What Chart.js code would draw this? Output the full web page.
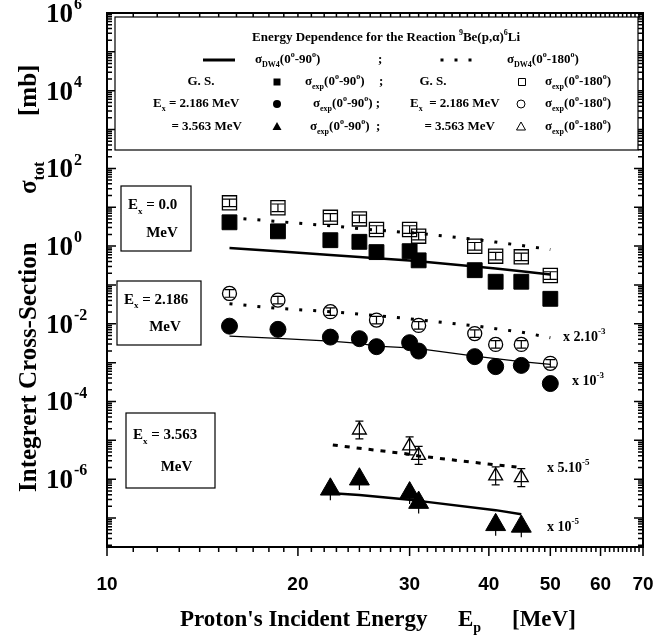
<!DOCTYPE html>
<html>
<head>
<meta charset="utf-8">
<script src="https://cdn.jsdelivr.net/npm/chart.js@4.4.1/dist/chart.umd.min.js"></script>
<style>
  body { margin: 0; background: #fff; }
  canvas { display: block; }
</style>
</head>
<body>
<canvas id="myChart" width="656" height="642"></canvas>
<script>
// energies (MeV)
const energias = [15.6, 18.6, 22.5, 25, 26.6, 30, 31, 38, 41, 45, 50];
const energias180Ex1 = [15.6, 18.6, 22.5, 26.6, 31, 38, 41, 45, 50];
const energiasTri = [22.5, 25, 30, 31, 41, 45];
const energiasTri180 = [25, 30, 31, 41, 45];
const energiasTriDw90 = [23, 25, 30, 31, 41, 45];
const energiasTriDw180 = [22.7, 25, 30, 31, 41, 45];

// G.S.
const gsExp90 = [4.1, 2.4, 1.42, 1.29, 0.70, 0.74, 0.43, 0.24, 0.121, 0.121, 0.044];
const gsExp180 = [13.0, 9.7, 5.5, 5.0, 2.67, 2.67, 1.8, 0.99, 0.55, 0.53, 0.175];
const gsDw90 = [0.90, 0.74, 0.59, 0.525, 0.486, 0.424, 0.409, 0.30, 0.264, 0.224, 0.186];
const gsDw180 = [5.43, 4.29, 3.33, 2.83, 2.59, 2.21, 2.13, 1.50, 1.27, 1.04, 0.82];

// Ex = 2.186 MeV (scaled)
const ex1Exp90 = [8.7e-3, 7.2e-3, 4.55e-3, 4.14e-3, 2.58e-3, 3.27e-3, 1.99e-3, 1.43e-3, 7.9e-4, 8.5e-4, 2.9e-4];
const ex1Exp180 = [0.0604, 0.0407, 0.0205, 0.01245, 9.1e-3, 5.6e-3, 2.95e-3, 2.95e-3, 9.6e-4];
const ex1Dw90 = [4.83e-3, 4.21e-3, 3.59e-3, 3.13e-3, 2.67e-3, 2.40e-3, 2.29e-3, 1.48e-3, 1.27e-3, 1.06e-3, 9.0e-4];
const ex1Dw180 = [0.0329, 0.025, 0.0205, 0.0178, 0.0162, 0.0135, 0.0127, 8.9e-3, 7.5e-3, 6.1e-3, 4.4e-3];

// Ex = 3.563 MeV (scaled)
const ex2Exp90 = [5.5e-7, 1.0e-6, 4.4e-7, 2.5e-7, 6.7e-8, 6.1e-8];
const ex2Exp180 = [1.85e-5, 7.2e-6, 4.1e-6, 1.22e-6, 1.1e-6];
const ex2Dw90 = [4.3e-7, 3.95e-7, 2.95e-7, 2.77e-7, 1.6e-7, 1.26e-7];
const ex2Dw180 = [7.6e-6, 6.27e-6, 4.4e-6, 3.98e-6, 2.33e-6, 2.0e-6];

// error bar factors (value / f .. value * f)
const errGs180 = [1.25, 1.25, 1.25, 1.25, 1.25, 1.25, 1.25, 1.25, 1.25, 1.25, 1.25];
const errEx1180 = [1.25, 1.25, 1.25, 1.25, 1.25, 1.25, 1.25, 1.25, 1.25];
const errEx290 = [1.9, 1.9, 1.9, 1.9, 1.9, 1.9];
const errEx2180 = [1.7, 1.7, 1.7, 1.7, 1.7];

const xTicks = [10, 20, 30, 40, 50, 60, 70];
const yDecadas = [6, 4, 2, 0, -2, -4, -6];

const SERIF = '"Liberation Serif", "Times New Roman", serif';
const SANS = '"Liberation Sans", Arial, sans-serif';

function puntos(xs, ys) {
  return xs.map((x, i) => ({ x: x, y: ys[i] }));
}

function marcador(label, xs, ys, estilo, radio, lleno, err, cap) {
  return {
    label: label,
    data: puntos(xs, ys),
    showLine: false,
    pointStyle: estilo,
    pointRadius: radio,
    pointHoverRadius: radio,
    pointBackgroundColor: lleno ? '#000' : 'rgba(0,0,0,0)',
    pointBorderColor: '#000',
    pointBorderWidth: lleno ? 1 : 1.3,
    errores: err,
    capAncho: cap
  };
}

function linea(label, xs, ys, ancho, dash) {
  return {
    label: label,
    data: puntos(xs, ys),
    showLine: true,
    borderColor: '#000',
    borderWidth: ancho,
    borderDash: dash,
    borderCapStyle: 'butt',
    pointRadius: 0,
    tension: 0
  };
}

// texto con sub/superindices
function textoRico(ctx, x, y, partes, size, align) {
  const fuente = m => m === 'n' ? `bold ${size}px ${SERIF}` : `bold ${Math.round(size * 0.62)}px ${SERIF}`;
  let w = 0;
  for (const [t, m] of partes) { ctx.font = fuente(m); w += ctx.measureText(t).width; }
  let cx = align === 'center' ? x - w / 2 : align === 'right' ? x - w : x;
  ctx.textAlign = 'left';
  ctx.textBaseline = 'middle';
  for (const [t, m] of partes) {
    ctx.font = fuente(m);
    const dy = m === 'sub' ? size * 0.38 : m === 'sup' ? -size * 0.38 : 0;
    ctx.fillText(t, cx, y + dy);
    cx += ctx.measureText(t).width;
  }
}

const barrasError = {
  id: 'barrasError',
  afterDatasetsDraw(chart) {
    const ctx = chart.ctx;
    const xs = chart.scales.x, ys = chart.scales.y;
    ctx.save();
    ctx.strokeStyle = '#000';
    ctx.lineWidth = 1.2;
    chart.data.datasets.forEach(ds => {
      if (!ds.errores) return;
      ds.data.forEach((p, i) => {
        const f = ds.errores[i];
        const px = xs.getPixelForValue(p.x);
        const y1 = ys.getPixelForValue(p.y / f);
        const y2 = ys.getPixelForValue(p.y * f);
        ctx.beginPath();
        ctx.moveTo(px, y1); ctx.lineTo(px, y2);
        if (ds.capAncho) {
          const c = ds.capAncho / 2;
          ctx.moveTo(px - c, y1); ctx.lineTo(px + c, y1);
          ctx.moveTo(px - c, y2); ctx.lineTo(px + c, y2);
        }
        ctx.stroke();
      });
    });
    ctx.restore();
  }
};

function dibujaSimbolo(ctx, tipo, x, y, lleno) {
  ctx.beginPath();
  if (tipo === 'rect') ctx.rect(x - 3.5, y - 3.5, 7, 7);
  if (tipo === 'circle') ctx.arc(x, y, 4, 0, Math.PI * 2);
  if (tipo === 'triangle') { ctx.moveTo(x, y - 5); ctx.lineTo(x + 4.5, y + 3); ctx.lineTo(x - 4.5, y + 3); ctx.closePath(); }
  if (lleno) ctx.fill(); else { ctx.lineWidth = 1; ctx.stroke(); }
}

const decoracion = {
  id: 'decoracion',
  afterDraw(chart) {
    const ctx = chart.ctx;
    const a = chart.chartArea;
    const xs = chart.scales.x, ys = chart.scales.y;
    ctx.save();
    ctx.fillStyle = '#000';
    ctx.strokeStyle = '#000';

    // marco
    ctx.lineWidth = 2;
    ctx.strokeRect(a.left, a.top, a.right - a.left, a.bottom - a.top);

    // ticks eje x (abajo hacia fuera, arriba hacia dentro)
    ctx.lineWidth = 1.5;
    for (let e = 10; e <= 70; e++) {
      const px = xs.getPixelForValue(e);
      const mayor = e % 10 === 0;
      ctx.beginPath();
      ctx.moveTo(px, a.bottom); ctx.lineTo(px, a.bottom + (mayor ? 9 : 5));
      ctx.moveTo(px, a.top); ctx.lineTo(px, a.top + (mayor ? 8 : 5));
      ctx.stroke();
    }
    // ticks eje y (hacia dentro)
    for (let d = -8; d <= 6; d++) {
      for (let k = 1; k <= 9; k++) {
        const v = k * Math.pow(10, d);
        if (v < ys.min || v > ys.max) continue;
        const py = ys.getPixelForValue(v);
        const l = k === 1 ? 9 : 5;
        ctx.beginPath();
        ctx.moveTo(a.left, py); ctx.lineTo(a.left + l, py);
        ctx.moveTo(a.right, py); ctx.lineTo(a.right - l, py);
        ctx.stroke();
      }
    }

    // etiquetas eje x
    ctx.font = `bold 19px ${SANS}`;
    ctx.textAlign = 'center';
    ctx.textBaseline = 'middle';
    xTicks.forEach(t => ctx.fillText(String(t), xs.getPixelForValue(t), 585));

    // etiquetas eje y
    yDecadas.forEach(d => {
      const py = ys.getPixelForValue(Math.pow(10, d));
      ctx.font = `bold 27px ${SERIF}`;
      ctx.textAlign = 'left';
      ctx.textBaseline = 'middle';
      ctx.fillText('10', 46, py + 2);
      const w = ctx.measureText('10').width;
      ctx.font = `bold 16px ${SERIF}`;
      ctx.fillText(d < 0 ? '-' + (-d) : String(d), 46 + w + 1, py - 8);
    });

    // titulos de ejes
    textoRico(ctx, 180, 620, [["Proton's Incident Energy", 'n']], 23, 'left');
    textoRico(ctx, 458, 620, [['E', 'n'], ['p', 'sub']], 23, 'left');
    textoRico(ctx, 512, 620, [['[MeV]', 'n']], 23, 'left');
    ctx.save();
    ctx.translate(30, 0);
    ctx.rotate(-Math.PI / 2);
    textoRico(ctx, -492, 0, [['Integrert Cross-Section', 'n']], 25, 'left');
    textoRico(ctx, -194, 0, [['\u03c3', 'n'], ['tot', 'sub']], 25, 'left');
    textoRico(ctx, -116, 0, [['[mb]', 'n']], 25, 'left');
    ctx.restore();

    // leyenda
    ctx.lineWidth = 1.2;
    ctx.fillStyle = '#fff';
    ctx.fillRect(115, 17, 523, 133);
    ctx.strokeRect(115, 17, 523, 133);
    ctx.fillStyle = '#000';
    textoRico(ctx, 386, 38, [['Energy Dependence for the Reaction ', 'n'], ['9', 'sup'], ['Be(p,\u03b1)', 'n'], ['6', 'sup'], ['Li', 'n']], 13, 'center');
    const sig = (sub, ang) => [['\u03c3', 'n'], [sub, 'sub'], ['(0', 'n'], ['o', 'sup'], ['-' + ang, 'n'], ['o', 'sup'], [')', 'n']];
    // fila 1
    ctx.lineWidth = 3;
    ctx.beginPath(); ctx.moveTo(203, 60); ctx.lineTo(235, 60); ctx.stroke();
    [442, 456, 470].forEach(x => ctx.fillRect(x - 1.5, 58.5, 3, 3));
    textoRico(ctx, 255, 60, sig('DW4', '90'), 13, 'left');
    textoRico(ctx, 378, 60, [[';', 'n']], 13, 'left');
    textoRico(ctx, 507, 60, sig('DW4', '180'), 13, 'left');
    // fila 2
    textoRico(ctx, 201, 82, [['G. S.', 'n']], 13, 'center');
    dibujaSimbolo(ctx, 'rect', 277, 82, true);
    textoRico(ctx, 305, 82, sig('exp', '90'), 13, 'left');
    textoRico(ctx, 379, 82, [[';', 'n']], 13, 'left');
    textoRico(ctx, 433, 82, [['G. S.', 'n']], 13, 'center');
    dibujaSimbolo(ctx, 'rect', 522, 82, false);
    textoRico(ctx, 545, 82, sig('exp', '180'), 13, 'left');
    // fila 3
    textoRico(ctx, 153, 104, [['E', 'n'], ['x', 'sub'], [' = 2.186 MeV', 'n']], 13, 'left');
    dibujaSimbolo(ctx, 'circle', 277, 104, true);
    textoRico(ctx, 313, 104, sig('exp', '90').concat([[' ;', 'n']]), 13, 'left');
    textoRico(ctx, 410, 104, [['E', 'n'], ['x', 'sub'], ['  = 2.186 MeV', 'n']], 13, 'left');
    dibujaSimbolo(ctx, 'circle', 521, 104, false);
    textoRico(ctx, 545, 104, sig('exp', '180'), 13, 'left');
    // fila 4
    textoRico(ctx, 242, 127, [['= 3.563 MeV', 'n']], 13, 'right');
    dibujaSimbolo(ctx, 'triangle', 277, 127, true);
    textoRico(ctx, 310, 127, sig('exp', '90').concat([['  ;', 'n']]), 13, 'left');
    textoRico(ctx, 495, 127, [['= 3.563 MeV', 'n']], 13, 'right');
    dibujaSimbolo(ctx, 'triangle', 521, 127, false);
    textoRico(ctx, 545, 127, sig('exp', '180'), 13, 'left');

    // cajas de estados
    ctx.lineWidth = 1.2;
    const cajas = [
      [121, 186, 70, 65, '0.0'],
      [117, 281, 84, 64, '2.186'],
      [126, 413, 89, 75, '3.563']
    ];
    cajas.forEach(([x, y, w, h, t]) => {
      ctx.strokeRect(x, y, w, h);
      textoRico(ctx, x + 7, y + h * 0.3, [['E', 'n'], ['x', 'sub'], [' = ' + t, 'n']], 15, 'left');
      textoRico(ctx, x + w / 2 + 6, y + h * 0.72, [['MeV', 'n']], 15, 'center');
    });

    // factores de escala
    textoRico(ctx, 563, 337, [['x 2.10', 'n'], ['-3', 'sup']], 14, 'left');
    textoRico(ctx, 572, 381, [['x 10', 'n'], ['-3', 'sup']], 14, 'left');
    textoRico(ctx, 547, 468, [['x 5.10', 'n'], ['-5', 'sup']], 14, 'left');
    textoRico(ctx, 547, 527, [['x 10', 'n'], ['-5', 'sup']], 14, 'left');

    ctx.restore();
  }
};

new Chart(document.getElementById('myChart'), {
  type: 'scatter',
  data: {
    datasets: [
      marcador('GS exp 0-90', energias, gsExp90, 'rect', 10.5, true),
      marcador('GS exp 0-180', energias, gsExp180, 'rect', 10, false, errGs180, 13),
      marcador('2.186 exp 0-90', energias, ex1Exp90, 'circle', 8, true),
      marcador('2.186 exp 0-180', energias180Ex1, ex1Exp180, 'circle', 7, false, errEx1180, 10),
      marcador('3.563 exp 0-90', energiasTri, ex2Exp90, 'triangle', 11.5, true, errEx290, 0),
      marcador('3.563 exp 0-180', energiasTri180, ex2Exp180, 'triangle', 8, false, errEx2180, 8),
      linea('GS DW4 0-90', energias, gsDw90, 2.5, []),
      linea('GS DW4 0-180', energias, gsDw180, 3, [3, 11]),
      linea('2.186 DW4 0-90', energias, ex1Dw90, 1.2, []),
      linea('2.186 DW4 0-180', energias, ex1Dw180, 3, [3, 11]),
      linea('3.563 DW4 0-90', energiasTriDw90, ex2Dw90, 2.5, []),
      linea('3.563 DW4 0-180', energiasTriDw180, ex2Dw180, 3, [5, 7])
    ]
  },
  options: {
    responsive: false,
    devicePixelRatio: 1,
    animation: false,
    layout: { padding: { left: 107, right: 13, top: 13, bottom: 95 } },
    scales: {
      x: { type: 'logarithmic', min: 10, max: 70, display: false },
      y: { type: 'logarithmic', min: 1.8e-8, max: 1e6, display: false }
    },
    plugins: {
      legend: { display: false },
      tooltip: { enabled: false }
    }
  },
  plugins: [barrasError, decoracion]
});
</script>
</body>
</html>
